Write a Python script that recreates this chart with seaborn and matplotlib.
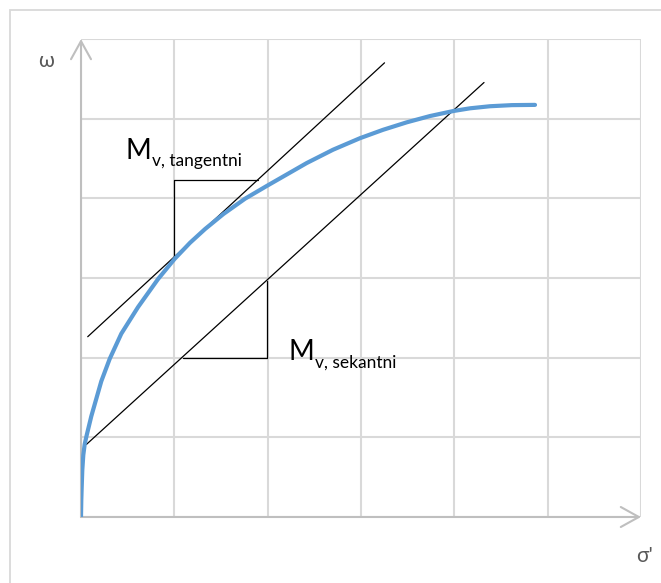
import matplotlib
matplotlib.use("Agg")
import matplotlib.pyplot as plt
import seaborn as sns
import pandas as pd
from matplotlib.patches import Rectangle

# ---- data ----
sigma = [0, 0.0032, 0.0075, 0.0139, 0.0246, 0.0396, 0.0611, 0.1104, 0.2175,
         0.3075, 0.4318, 0.6107, 0.8250, 1.0040, 1.1679, 1.3286, 1.5247,
         1.7572, 1.9897, 2.4183, 2.7001, 2.9894, 3.2358, 3.4898, 3.7394,
         3.9890, 4.1680, 4.3823, 4.6180, 4.8644]
omega = [0, 0.213, 0.376, 0.589, 0.777, 0.914, 1.027, 1.265, 1.704,
         1.985, 2.301, 2.634, 2.986, 3.241, 3.442, 3.614, 3.802,
         3.995, 4.155, 4.443, 4.610, 4.755, 4.860, 4.954, 5.033,
         5.096, 5.130, 5.156, 5.170, 5.173]

tang_x = [0.072, 3.252]
tang_y = [2.263, 5.701]
sec_x = [0.058, 4.318]
sec_y = [0.911, 5.454]

tang_tri_x = [0.998, 0.998, 1.897]
tang_tri_y = [3.264, 4.228, 4.228]
sec_tri_x = [1.097, 1.992, 1.992]
sec_tri_y = [1.996, 1.996, 2.967]

grid_ticks = [0, 1, 2, 3, 4, 5, 6]
label_main = "M"
label_tang = "v, tangentni"
label_sec = "v, sekantni"
label_tang_pos = (0.478, 4.50)
label_sec_pos = (2.227, 1.967)
xlabel = "σ'"
ylabel = "ω"

# ---- figure ----
sns.set_style("white")
plt.rcParams['font.family'] = ['Lato', 'DejaVu Sans']

W, H = 661, 583
fig = plt.figure(figsize=(W / 100, H / 100), dpi=100)
# outer frame
fig.patches.append(Rectangle((10 / W, -0.1), 1.2, (H - 10) / H + 0.1,
                             transform=fig.transFigure, fill=False,
                             edgecolor="#d9d9d9", linewidth=1.3))

ax = fig.add_axes([81 / W, (H - 517) / H, (641 - 81) / W, (517 - 39) / H])
ax.set_xlim(0, 6)
ax.set_ylim(0, 6)
for s in ax.spines.values():
    s.set_visible(False)
ax.set_xticks(grid_ticks)
ax.set_yticks(grid_ticks)
ax.set_xticklabels([])
ax.set_yticklabels([])
ax.grid(True, color="#d9d9d9", linewidth=1.5)
ax.tick_params(axis="x", length=4.5, width=1.5, color="#d9d9d9", direction="out")
ax.tick_params(axis="y", length=0)
ax.set_axisbelow(True)

# axes with arrows
arrow_kw = dict(arrowstyle="->,head_length=1.3,head_width=0.72", mutation_scale=10,
                color="#bfbfbf", lw=1.5, shrinkA=0, shrinkB=0)
ax.annotate("", xy=(6, 0), xytext=(0, 0), arrowprops=arrow_kw, annotation_clip=False)
ax.annotate("", xy=(0, 6), xytext=(0, 0), arrowprops=arrow_kw, annotation_clip=False)

# tangent & secant lines
sns.lineplot(x=tang_x, y=tang_y, ax=ax, color="black", linewidth=0.9, sort=False)
sns.lineplot(x=sec_x, y=sec_y, ax=ax, color="black", linewidth=0.9, sort=False)
ax.plot(tang_tri_x, tang_tri_y, color="black", linewidth=0.9)
ax.plot(sec_tri_x, sec_tri_y, color="black", linewidth=0.9)

# curve
df = pd.DataFrame({"sigma": sigma, "omega": omega})
sns.lineplot(data=df, x="sigma", y="omega", ax=ax, color="#5b9bd5",
             linewidth=3, sort=False, solid_capstyle="round",
             solid_joinstyle="round", zorder=5)
ax.set_xlabel("")
ax.set_ylabel("")

# labels with subscript
for pos, sub in [(label_tang_pos, label_tang), (label_sec_pos, label_sec)]:
    t = ax.text(pos[0], pos[1], label_main, fontsize=20, color="black",
                ha="left", va="baseline")
    ax.annotate(sub, xy=(1, 0), xycoords=t, xytext=(0.5, -1.5),
                textcoords="offset points", fontsize=12.5, color="black",
                ha="left", va="baseline")

fig.text(46 / W, 1 - 61 / H, ylabel, fontsize=15, color="#595959",
         ha="center", va="center")
fig.text(645 / W, 1 - 556 / H, xlabel, fontsize=15, color="#595959",
         ha="center", va="center")

fig.savefig("out.png", dpi=100)
